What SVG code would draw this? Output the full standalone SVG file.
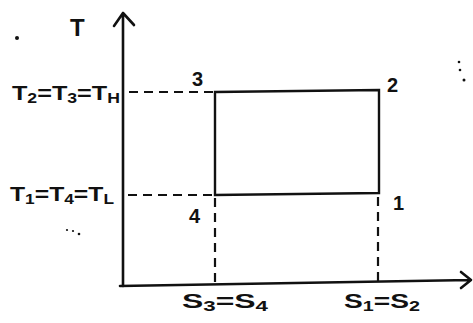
<svg xmlns="http://www.w3.org/2000/svg" width="473" height="323" viewBox="0 0 473 323">
<style>
.ax{stroke:#111;stroke-width:2.6;fill:none;stroke-linecap:round;stroke-linejoin:round}
.ln{stroke:#111;stroke-width:2.4;fill:none}
.ds{stroke:#111;stroke-width:2.2;fill:none;stroke-dasharray:9 6}
text{font-family:"Liberation Sans",Arial,sans-serif;fill:#111}
.lb{font-size:20px;font-weight:bold}
.sub{font-size:14px}
</style>
<rect width="473" height="323" fill="#fff"/>
<g id="axes">
<path class="ax" d="M123,286 L123,13 M114,26 L123,13 L134,25"/>
<path class="ax" d="M120,286 L470,280 M461,272 L471,280 L461,288"/>
</g>
<g id="connectors">
<path class="ds" d="M129,92 L213,92"/>
<path class="ds" d="M128,195 L213,195"/>
<path class="ds" d="M215,198 L215,284"/>
<path class="ds" d="M378,197 L378,281"/>
</g>
<g id="cycle">
<path class="ln" d="M215,92 L379,90 L379,193 L215,195 Z"/>
</g>
<g id="labels">
<text x="70" y="36" font-size="24" font-weight="bold">T</text>
<text x="12" y="100" class="lb" textLength="108" lengthAdjust="spacingAndGlyphs">T<tspan class="sub" dy="3">2</tspan><tspan dy="-3">=T</tspan><tspan class="sub" dy="3">3</tspan><tspan dy="-3">=T</tspan><tspan class="sub" dy="3">H</tspan></text>
<text x="10" y="201" class="lb" textLength="104" lengthAdjust="spacingAndGlyphs">T<tspan class="sub" dy="3">1</tspan><tspan dy="-3">=T</tspan><tspan class="sub" dy="3">4</tspan><tspan dy="-3">=T</tspan><tspan class="sub" dy="3">L</tspan></text>
<text x="192" y="86" class="lb">3</text>
<text x="387" y="92" class="lb">2</text>
<text x="393" y="210" class="lb">1</text>
<text x="189" y="223" class="lb">4</text>
<text x="182" y="308" class="lb" textLength="86" lengthAdjust="spacingAndGlyphs">S<tspan class="sub" dy="3">3</tspan><tspan dy="-3">=S</tspan><tspan class="sub" dy="3">4</tspan></text>
<text x="344" y="308" class="lb" textLength="76" lengthAdjust="spacingAndGlyphs">S<tspan class="sub" dy="3">1</tspan><tspan dy="-3">=S</tspan><tspan class="sub" dy="3">2</tspan></text>
</g>
<g id="dots" fill="#111">
<circle cx="17" cy="38" r="2"/>
<circle cx="459" cy="62" r="1.3"/>
<circle cx="460" cy="70" r="1.3"/>
<circle cx="464" cy="80" r="1.5"/>
<circle cx="67" cy="230" r="1.1"/>
<circle cx="73" cy="231" r="1.1"/>
<circle cx="79" cy="234" r="1.3"/>
</g>
</svg>
